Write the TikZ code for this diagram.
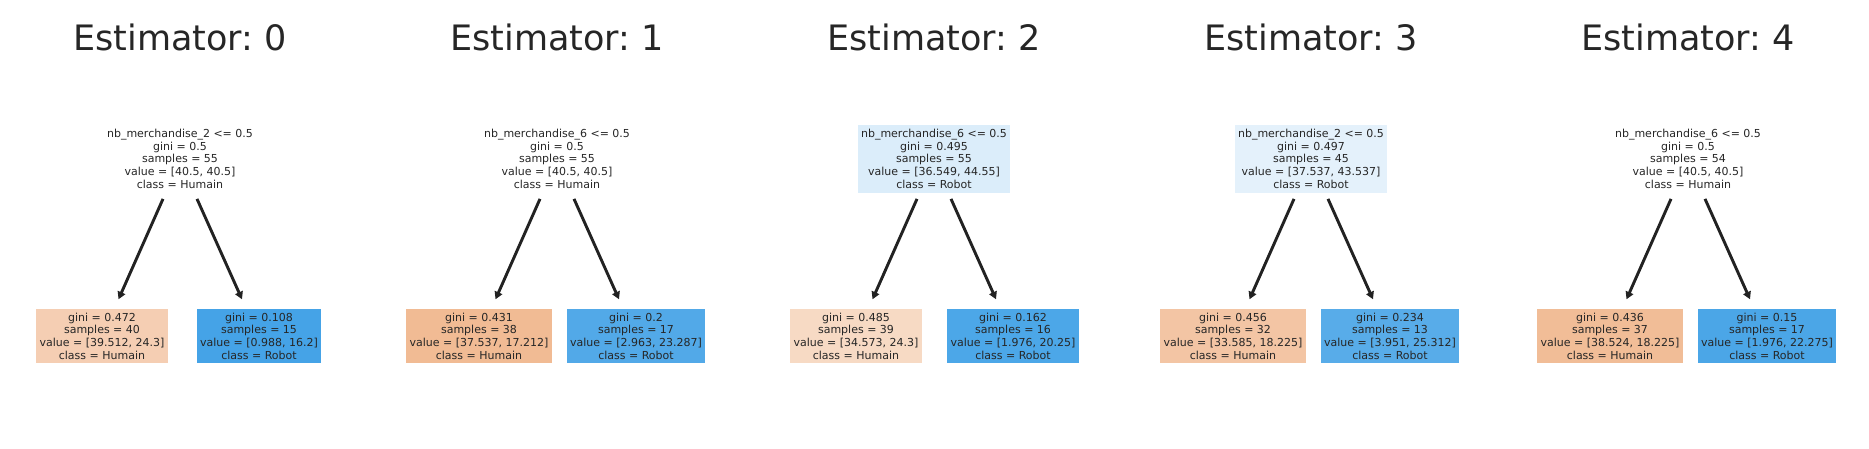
\documentclass[tikz,border=0pt]{standalone}
\usepackage{fontspec}
\setmainfont{DejaVu Sans}
\usetikzlibrary{calc,arrows.meta}
\frenchspacing
\definecolor{txt}{HTML}{262626}
\definecolor{arr}{HTML}{222222}
\definecolor{cA}{RGB}{245,206,179}
\definecolor{cB}{RGB}{69,163,231}
\definecolor{cC}{RGB}{241,187,148}
\definecolor{cD}{RGB}{82,169,232}
\definecolor{cE}{RGB}{219,237,250}
\definecolor{cF}{RGB}{247,218,196}
\definecolor{cG}{RGB}{76,167,232}
\definecolor{cH}{RGB}{228,241,251}
\definecolor{cI}{RGB}{243,197,164}
\definecolor{cJ}{RGB}{88,172,233}
\definecolor{cK}{RGB}{241,189,151}
\definecolor{cL}{RGB}{75,166,231}
\tikzset{
  ttl/.style={anchor=base,text=txt,font=\fontsize{35}{40}\selectfont\frenchspacing,inner sep=0},
  tnode/.style={align=center,text=txt,font=\fontsize{11}{12.67}\selectfont,inner xsep=3.5pt,inner ysep=0pt},
  rootbox/.style={tnode,minimum height=67.7pt},
  leafbox/.style={tnode,minimum height=54.3pt},
  edge/.style={draw=arr,line width=2.9pt,-{Triangle[length=7.5pt,width=8pt]}}
}
\begin{document}
\begin{tikzpicture}[x=1pt,y=-1pt]
\fill[white] (0,0) rectangle (1869,449);
\useasboundingbox (0,0) rectangle (1869,449);
% titles
\node[ttl] (t0) at (180,51) {Estimator: 0};
\node[ttl] (t1) at (557,51) {Estimator: 1};
\node[ttl] (t2) at (934,51) {Estimator: 2};
\node[ttl] (t3) at (1311,51) {Estimator: 3};
\node[ttl] (t4) at (1688,51) {Estimator: 4};
% roots
\node[rootbox,fill=white] (r0) at (180,158.85) {nb\_merchandise\_2 <= 0.5\\gini = 0.5\\samples = 55\\value = [40.5, 40.5]\\class = Humain};
\node[rootbox,fill=white] (r1) at (557,158.85) {nb\_merchandise\_6 <= 0.5\\gini = 0.5\\samples = 55\\value = [40.5, 40.5]\\class = Humain};
\node[rootbox,fill=cE] (r2) at (934,158.85) {nb\_merchandise\_6 <= 0.5\\gini = 0.495\\samples = 55\\value = [36.549, 44.55]\\class = Robot};
\node[rootbox,fill=cH] (r3) at (1311,158.85) {nb\_merchandise\_2 <= 0.5\\gini = 0.497\\samples = 45\\value = [37.537, 43.537]\\class = Robot};
\node[rootbox,fill=white] (r4) at (1688,158.85) {nb\_merchandise\_6 <= 0.5\\gini = 0.5\\samples = 54\\value = [40.5, 40.5]\\class = Humain};
% leaves
\node[leafbox,fill=cA] (a0) at (102,336.15) {gini = 0.472\\samples = 40\\value = [39.512, 24.3]\\class = Humain};
\node[leafbox,fill=cB] (b0) at (259,336.15) {gini = 0.108\\samples = 15\\value = [0.988, 16.2]\\class = Robot};
\node[leafbox,fill=cC] (a1) at (479,336.15) {gini = 0.431\\samples = 38\\value = [37.537, 17.212]\\class = Humain};
\node[leafbox,fill=cD] (b1) at (636,336.15) {gini = 0.2\\samples = 17\\value = [2.963, 23.287]\\class = Robot};
\node[leafbox,fill=cF] (a2) at (856,336.15) {gini = 0.485\\samples = 39\\value = [34.573, 24.3]\\class = Humain};
\node[leafbox,fill=cG] (b2) at (1013,336.15) {gini = 0.162\\samples = 16\\value = [1.976, 20.25]\\class = Robot};
\node[leafbox,fill=cI] (a3) at (1233,336.15) {gini = 0.456\\samples = 32\\value = [33.585, 18.225]\\class = Humain};
\node[leafbox,fill=cJ] (b3) at (1390,336.15) {gini = 0.234\\samples = 13\\value = [3.951, 25.312]\\class = Robot};
\node[leafbox,fill=cK] (a4) at (1610,336.15) {gini = 0.436\\samples = 37\\value = [38.524, 18.225]\\class = Humain};
\node[leafbox,fill=cL] (b4) at (1767,336.15) {gini = 0.15\\samples = 17\\value = [1.976, 22.275]\\class = Robot};
% edges
\foreach \i in {0,...,4}{
  \coordinate (sl\i) at ($(r\i.south)+(-17,6)$);
  \coordinate (sr\i) at ($(r\i.south)+(17,6)$);
  \coordinate (el\i) at ($(a\i.north)+(16.5,-9.5)$);
  \coordinate (er\i) at ($(b\i.north)+(-17,-9.5)$);
  \draw[edge] (sl\i) -- (el\i);
  \draw[edge] (sr\i) -- (er\i);
}
\end{tikzpicture}
\end{document}
